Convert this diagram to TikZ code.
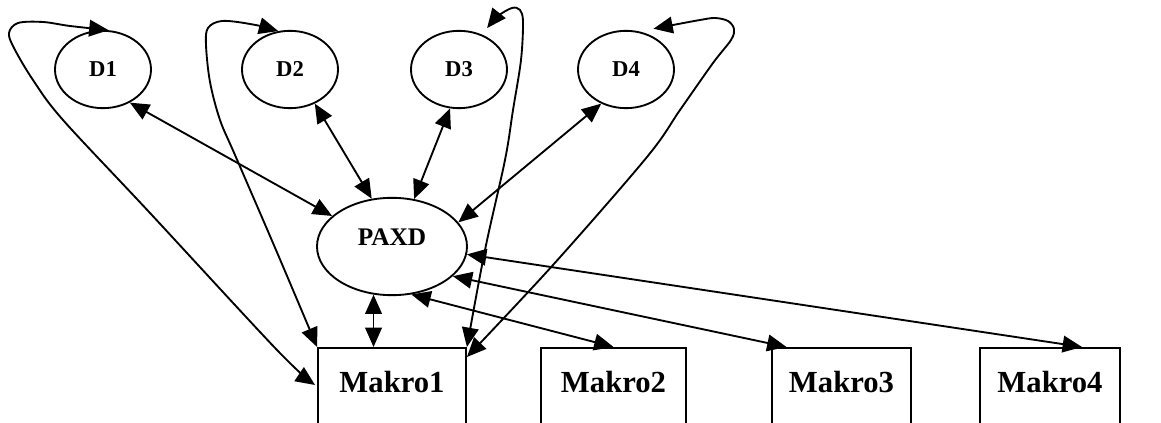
\documentclass[tikz,border=0pt]{standalone}
\usepackage{fontspec}
\setmainfont{Liberation Serif}
\usetikzlibrary{arrows.meta,shapes.geometric,calc}
\begin{document}
\begin{tikzpicture}[x=0.75pt,y=-0.75pt,line width=1.4pt,
  link/.style={{Triangle[length=14.5pt,width=12.5pt]}-{Triangle[length=14.5pt,width=12.5pt]}},
  dnode/.style={draw, ellipse, minimum width=72pt, minimum height=58pt, inner sep=0pt,
    font=\bfseries\fontsize{17}{18}\selectfont},
  hub/.style={draw, ellipse, minimum width=112.5pt, minimum height=73pt, inner sep=0pt},
  hublabel/.style={inner sep=0pt, font=\bfseries\fontsize{19}{20}\selectfont},
  makro/.style={draw, rectangle, anchor=north, inner sep=0pt,
    text height=33.75pt, text depth=36pt,
    font=\bfseries\fontsize{23}{24}\selectfont}
]
\useasboundingbox (0,0) rectangle (1161,423);
\fill[white] (0,0) rectangle (1161,423);
\clip (0,0) rectangle (1161,423);

% data nodes
\node[dnode] (d1) at (103,69.5) {D1};
\node[dnode] (d2) at (290,69.5) {D2};
\node[dnode] (d3) at (459,69.5) {D3};
\node[dnode] (d4) at (626,69.5) {D4};

% central node
\node[hub] (paxd) at (392,246.5) {};
\node[hublabel] (paxdlabel) at ($(paxd.center)+(0,-9.5)$) {PAXD};

% macro boxes (open at the bottom edge)
\node[makro, minimum width=111pt] (m1) at (392,347) {Makro1};
\node[makro, minimum width=108.75pt] (m2) at (613.5,347) {Makro2};
\node[makro, minimum width=104.25pt] (m3) at (841.5,347) {Makro3};
\node[makro, minimum width=105pt] (m4) at (1050,347) {Makro4};

% hub to data nodes
\draw[link] (d1.-51) -- (paxd.153);
\draw[link] (d2.-54) -- (paxd.113);
\draw[link] (d3.-103) -- (paxd.65);
\draw[link] (d4.-126) -- (paxd.20);

% hub to macro boxes
\draw[link] (paxd.-111) -- (paxd.-111 |- m1.north);
\draw[link] (paxd.-68) -- (m2.north);
\draw[link] (paxd.-26) -- ($(m3.north)+(-55,0)$);
\draw[link] (paxd.-6.5) -- ($(m4.north)+(32,0)$);

% loops from Makro1 back to each data node
\draw[link] plot[smooth, tension=0.55] coordinates {(d1.82) (70,26) (43,22) (18,23) (9,33) (14,48) (33,80) (63,120) (150,213) (277,350) ($(m1.north west)+(-2,38)$)};
\draw[link] plot[smooth, tension=0.55] coordinates {(d2.107) (250,24) (222,21) (208,28) (206,45) (210,82) (220,120) (235,155) (276,250) (m1.north west)};
\draw[link] plot[smooth, tension=0.55] coordinates {($(d3.55)+(4,-7)$) (498,16) (512,8) (520,10) (523,22) (521,60) (513,110) (505,160) (485,250) (m1.north east)};
\draw[link] plot[smooth, tension=0.55] coordinates {($(d4.56)+(4,-6)$) (673,25) (700,20) (715,18) (728,21) (734,29) (731,40) (713,63) (680,110) (647,157) (553,265) ($(m1.north east)+(0,10)$)};
\end{tikzpicture}
\end{document}
